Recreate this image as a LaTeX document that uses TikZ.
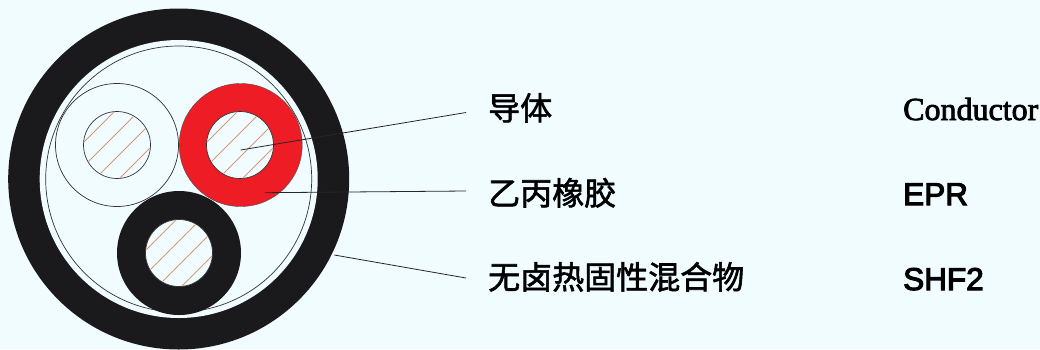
\documentclass[tikz,border=0pt]{standalone}
\usepackage{fontspec}
\setmainfont[FakeBold=2.5]{Liberation Serif}
\setsansfont[FakeBold=3.5]{Liberation Sans}
\newfontfamily\cjk[FakeBold=1.8]{Noto Sans CJK SC}
\usepackage{xcolor}
\usetikzlibrary{positioning}
\definecolor{bgcol}{HTML}{F0FCFF}
\definecolor{sheathcol}{HTML}{1A1A1C}
\definecolor{redcol}{HTML}{EE1C25}
\definecolor{hatchcol}{HTML}{D49A78}

\begin{document}
\begin{tikzpicture}[
    x=1pt, y=-1pt,
    disc/.style={circle, draw=none, inner sep=0pt, outer sep=0pt},
    ringline/.style={disc, draw=black!80, line width=0.7pt},
    leader/.style={draw=black!85, line width=0.8pt},
    cntext/.style={anchor=base west, inner sep=0pt, font=\cjk\fontsize{32}{32}\selectfont},
    entext/.style={anchor=base west, inner sep=0pt, font=\fontsize{32}{32}\selectfont},
    artext/.style={anchor=base west, inner sep=0pt, font=\sffamily\fontsize{31.5}{32}\selectfont}
]
    \fill[bgcol] (0,0) rectangle (1040,349);
    \useasboundingbox (0,0) rectangle (1040,349);

    % outer sheath
    \node[disc, fill=sheathcol, minimum size=341pt] (sheath) at (178.7,179) {};
    \node[disc, fill=bgcol, minimum size=278pt] (gap) at (178.7,179) {};
    \node[ringline, minimum size=266pt] (wrap) at (178.7,179) {};

    % three insulated cores
    \node[ringline, fill=bgcol, minimum size=123pt] (insW) at (117,145) {};
    \node[disc, fill=redcol, draw=black!70, line width=0.4pt, minimum size=123pt] (insR) at (240.7,145) {};
    \node[disc, fill=sheathcol, minimum size=124pt] (insB) at (179,253) {};

    \foreach \name/\cx/\cy in {condW/117/145, condR/240/145, condB/179/253} {
        \node[ringline, fill=bgcol, minimum size=67pt] (\name) at (\cx,\cy) {};
        \begin{scope}
            \clip (\cx,\cy) circle (33pt);
            \foreach \d in {-36,-12,12,36}
                \draw[hatchcol, line width=0.8pt] (\cx+\d-40,\cy+40) -- (\cx+\d+40,\cy-40);
        \end{scope}
    }

    % labels
    \node[cntext] (lblA) at (488,120) {导体};
    \node[cntext] (lblB) at (488,205) {乙丙橡胶};
    \node[cntext] (lblC) at (488,289) {无卤热固性混合物};
    \node[entext] (nameA) at (903,120) {Conductor};
    \node[artext] (nameB) at (903,205) {EPR};
    \node[artext] (nameC) at (903,290) {SHF2};

    % leader lines
    \coordinate (tipA) at (240.7,150);
    \coordinate (endA) at (466,112.5);
    \coordinate (tipB) at (265,192.7);
    \coordinate (endB) at (466,191);
    \coordinate (tipC) at (334.3,255);
    \coordinate (endC) at (466,278);
    \draw[leader] (tipA) -- (endA);
    \draw[leader] (tipB) -- (endB);
    \draw[leader] (tipC) -- (endC);
\end{tikzpicture}
\end{document}
